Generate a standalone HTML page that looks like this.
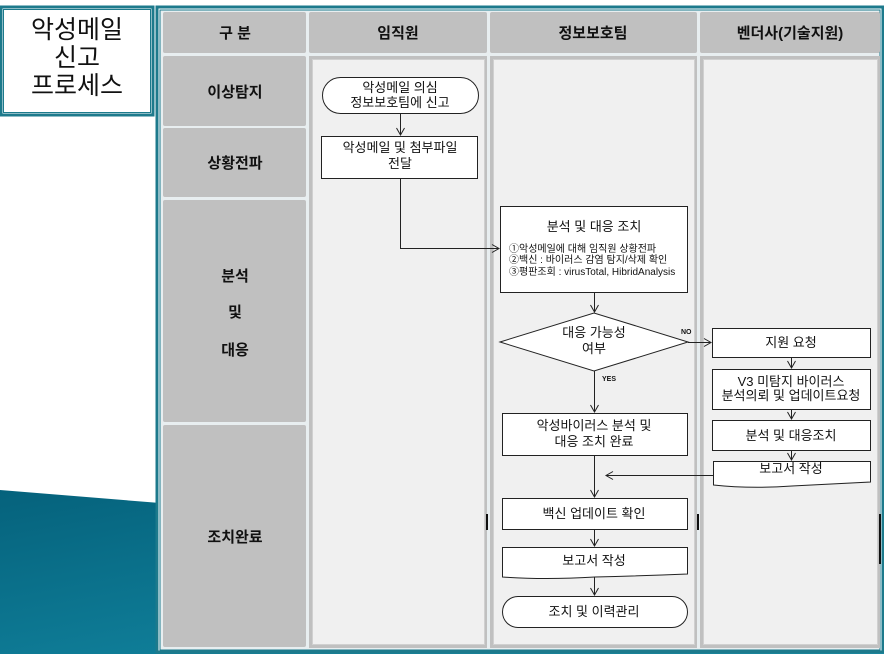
<!DOCTYPE html>
<html><head><meta charset="utf-8"><style>
html,body{margin:0;padding:0;background:#fff;}
svg{display:block;font-family:"Liberation Sans","Noto Sans CJK KR",sans-serif;}
</style></head><body>
<svg width="884" height="654" viewBox="0 0 884 654" xmlns="http://www.w3.org/2000/svg">
<defs>
<linearGradient id="tg" x1="0" y1="0" x2="1" y2="1">
<stop offset="0" stop-color="#05627c"/><stop offset="1" stop-color="#1690ab"/></linearGradient>
<marker id="ar" markerWidth="10" markerHeight="10" refX="8" refY="5" orient="auto" markerUnits="userSpaceOnUse">
<path d="M1,1 L8,5 L1,9" fill="none" stroke="#222" stroke-width="1"/></marker>
</defs>
<polygon points="0,490 160,503 884,560 884,654 0,654" fill="url(#tg)"/>
<!-- title box -->
<rect x="1" y="7" width="152" height="108" fill="#fff" stroke="#1d7a8c" stroke-width="3"/>
<rect x="3.5" y="9.5" width="147" height="103" fill="none" stroke="#1d7a8c" stroke-width="1"/>
<g font-size="25" text-anchor="middle" fill="#111">
<text x="77" y="38">악성메일</text><text x="77" y="66">신고</text><text x="77" y="94">프로세스</text></g>
<!-- frame -->
<rect x="157" y="7" width="726" height="645" fill="#fff" stroke="#1d7a8c" stroke-width="3"/>
<rect x="160" y="10" width="720" height="640" fill="#e8eef0" stroke="#1d7a8c" stroke-width="1"/>
<!-- header / label cells -->
<g fill="#c0c0c0">
<rect x="163" y="12" width="143" height="41" rx="2"/>
<rect x="309" y="12" width="178" height="41" rx="2"/>
<rect x="490" y="12" width="207" height="41" rx="2"/>
<rect x="700" y="12" width="180" height="41" rx="2"/>
<rect x="163" y="56" width="143" height="70" rx="2"/>
<rect x="163" y="128" width="143" height="69" rx="2"/>
<rect x="163" y="200" width="143" height="222" rx="2"/>
<rect x="163" y="425" width="143" height="222" rx="2"/>
<rect x="309" y="56" width="178" height="592"/>
<rect x="490" y="56" width="207" height="592"/>
<rect x="700" y="56" width="180" height="592"/>
</g>
<g fill="#f0f0f0" stroke="#d0d0d0">
<rect x="312.5" y="59.5" width="172" height="585"/>
<rect x="493.5" y="59.5" width="201" height="585"/>
<rect x="703.5" y="59.5" width="174" height="585"/>
</g>
<g font-size="15" text-anchor="middle" fill="#111" font-weight="bold">
<text x="235" y="38">구 분</text><text x="398" y="38">임직원</text>
<text x="593" y="38">정보보호팀</text><text x="790" y="38">벤더사(기술지원)</text>
<text x="235" y="97">이상탐지</text><text x="235" y="168">상황전파</text>
<text x="235" y="281">분석</text><text x="235" y="317">및</text><text x="235" y="355">대응</text>
<text x="235" y="542">조치완료</text></g>
<g fill="#111"><rect x="486" y="514" width="2" height="16"/><rect x="697" y="514" width="2" height="16"/><rect x="879" y="514" width="2" height="50"/></g>
<!-- shapes -->
<g fill="#fff" stroke="#222" stroke-width="1">
<rect x="322.5" y="77.5" width="156" height="36" rx="18"/>
<rect x="321.5" y="136.5" width="156" height="42"/>
<rect x="500.5" y="206.5" width="187" height="86"/>
<polygon points="500,342 594,313 688,342 594,371"/>
<rect x="712.5" y="328.5" width="158" height="29"/>
<rect x="712.5" y="369.5" width="158" height="40"/>
<rect x="712.5" y="420.5" width="158" height="30"/>
<path d="M713.5,461.5 H870.5 V482 Q830,484 792,486 Q750,489 713.5,485 Z"/>
<rect x="502.5" y="413.5" width="185" height="42"/>
<rect x="502.5" y="498.5" width="185" height="31"/>
<path d="M502.5,547.5 H687.5 V574 Q640,576 595,577 Q545,580 502.5,577 Z"/>
<rect x="502.5" y="596.5" width="185" height="31" rx="15.5"/>
</g>
<g stroke="#222" stroke-width="1" fill="none" marker-end="url(#ar)">
<path d="M400.5,113 V135"/>
<path d="M400.5,178 V248.5 H499"/>
<path d="M594.5,292 V312"/>
<path d="M688,342.5 H711"/>
<path d="M791.5,357 V368"/>
<path d="M791.5,409 V419"/>
<path d="M791.5,450 V460"/>
<path d="M713,475.5 H606"/>
<path d="M594.5,371 V412"/>
<path d="M594.5,455 V497"/>
<path d="M594.5,529 V546"/>
<path d="M594.5,577 V595"/>
</g>
<g font-size="13" text-anchor="middle" fill="#111">
<text x="400" y="92">악성메일 의심</text><text x="400" y="107">정보보호팀에 신고</text>
<text x="400" y="152">악성메일 및 첨부파일</text><text x="400" y="168">전달</text>
<text x="594" y="231">분석 및 대응 조치</text>
<text x="594" y="337">대응 가능성</text><text x="594" y="353">여부</text>
<text x="791" y="347">지원 요청</text>
<text x="791" y="386">V3 미탐지 바이러스</text><text x="791" y="400">분석의뢰 및 업데이트요청</text>
<text x="791" y="440">분석 및 대응조치</text>
<text x="791" y="473">보고서 작성</text>
<text x="594" y="430">악성바이러스 분석 및</text><text x="594" y="446">대응 조치 완료</text>
<text x="594" y="518">백신 업데이트 확인</text>
<text x="594" y="565">보고서 작성</text>
<text x="594" y="616">조치 및 이력관리</text>
</g>
<g font-size="10" fill="#111">
<text x="509" y="252">①악성메일에 대해 임직원 상황전파</text>
<text x="509" y="263">②백신 : 바이러스 감염 탐지/삭제 확인</text>
<text x="509" y="275">③평판조회 : virusTotal, HibridAnalysis</text>
</g>
<g font-size="7" font-weight="bold" fill="#111"><text x="681" y="334">NO</text><text x="602" y="381">YES</text></g>
</svg>
</body></html>
